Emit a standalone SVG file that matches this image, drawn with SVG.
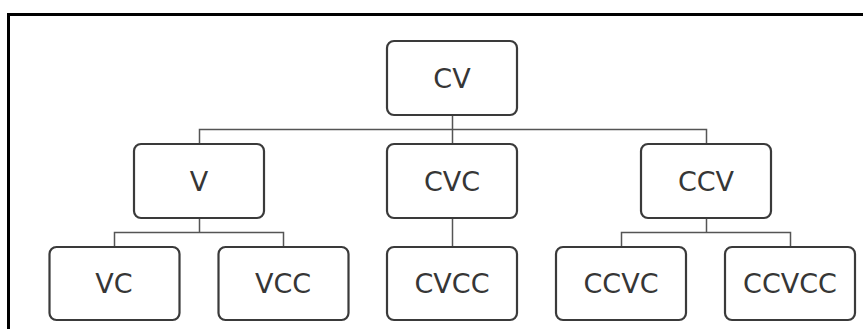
<svg xmlns="http://www.w3.org/2000/svg" width="863" height="329" viewBox="0 0 863 329">
  <style>
    .frame { fill: none; stroke: #000; stroke-width: 3; }
    .box { fill: #fff; stroke: #3a3a3a; stroke-width: 2.2; }
    .label { font-family: "DejaVu Sans", "Open Sans", sans-serif; font-size: 27px; fill: #363636; text-anchor: middle; }
    .link { fill: none; stroke: #555; stroke-width: 1.5; }
  </style>
  <rect width="863" height="329" fill="#fff"/>
  <!-- outer frame: top and left edges only -->
  <path class="frame" d="M8.5 340 V14.5 H870"/>

  <g id="connectors">
    <path class="link" d="M452.5 115 V129.5 M199.5 143 V129.5 H706.5 V143 M452.5 129.5 V143"/>
    <path class="link" d="M199.5 218 V232.5 M114.5 247 V232.5 H283.5 V247"/>
    <path class="link" d="M452.5 218 V247"/>
    <path class="link" d="M706.5 218 V232.5 M621.5 247 V232.5 H790.5 V247"/>
  </g>

  <g id="node-cv">
    <rect class="box" x="387" y="41" width="130" height="74" rx="7"/>
    <text class="label" x="452" y="88">CV</text>
  </g>
  <g id="node-v">
    <rect class="box" x="134" y="144" width="130" height="74" rx="7"/>
    <text class="label" x="199" y="191">V</text>
  </g>
  <g id="node-cvc">
    <rect class="box" x="387" y="144" width="130" height="74" rx="7"/>
    <text class="label" x="452" y="191">CVC</text>
  </g>
  <g id="node-ccv">
    <rect class="box" x="641" y="144" width="130" height="74" rx="7"/>
    <text class="label" x="706" y="191">CCV</text>
  </g>
  <g id="node-vc">
    <rect class="box" x="49.5" y="247" width="130" height="73" rx="7"/>
    <text class="label" x="114" y="293">VC</text>
  </g>
  <g id="node-vcc">
    <rect class="box" x="218.5" y="247" width="130" height="73" rx="7"/>
    <text class="label" x="283" y="293">VCC</text>
  </g>
  <g id="node-cvcc">
    <rect class="box" x="387" y="247" width="130" height="73" rx="7"/>
    <text class="label" x="452" y="293">CVCC</text>
  </g>
  <g id="node-ccvc">
    <rect class="box" x="556" y="247" width="130" height="73" rx="7"/>
    <text class="label" x="621" y="293">CCVC</text>
  </g>
  <g id="node-ccvcc">
    <rect class="box" x="725" y="247" width="130" height="73" rx="7"/>
    <text class="label" x="790" y="293">CCVCC</text>
  </g>
</svg>
